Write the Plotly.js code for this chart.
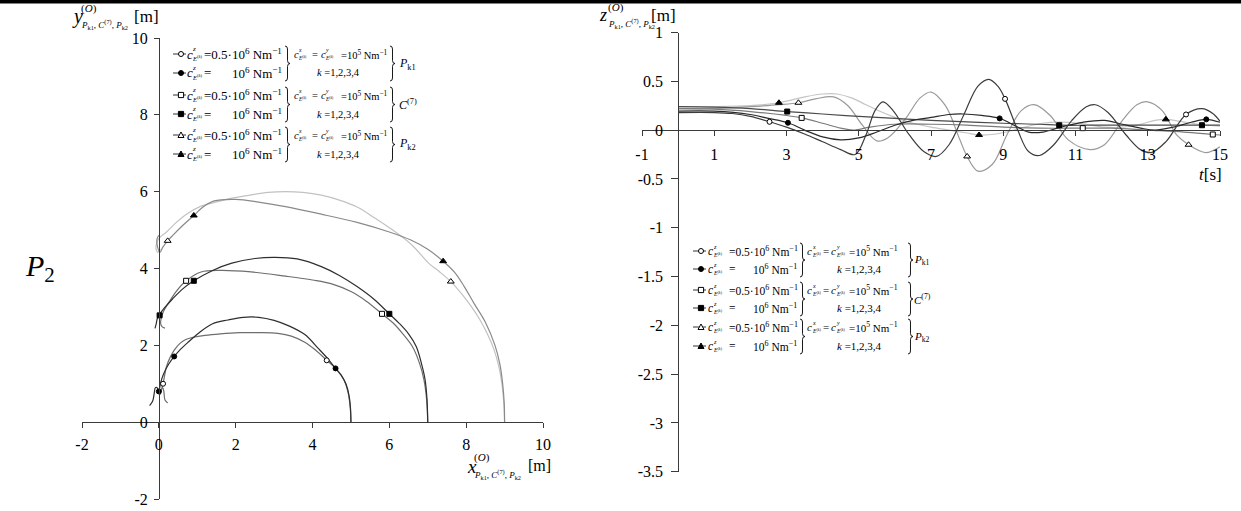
<!DOCTYPE html>
<html><head><meta charset="utf-8">
<script src="https://cdn.plot.ly/plotly-3.0.1.min.js"></script>
<style>html,body{margin:0;padding:0;background:#fff}#c{width:1241px;height:511px}
#c .xtick text,#c .ytick text,#c .x2tick text,#c .y2tick text{font-family:'Liberation Serif',serif !important}</style>
</head><body><div id="c"></div>
<script>
// ---------------- LEFT PANEL DATA (x, y in m) ----------------
const pk1HardX = [5.0,4.99,4.95,4.87,4.75,4.6,4.4,4.15,3.8,3.4,3.0,2.6,2.2,1.8,1.4,1.05,0.75,0.52,0.4,0.25,0.12,0.04,0.0,-0.05,-0.09,-0.12,-0.16,-0.24];
const pk1HardY = [0.0,0.35,0.7,1.0,1.22,1.4,1.65,1.92,2.28,2.5,2.65,2.73,2.73,2.66,2.56,2.33,2.07,1.85,1.71,1.5,1.25,1.0,0.8,0.9,0.9,0.75,0.55,0.43];
const pk1SoftX = [5.0,4.98,4.92,4.82,4.65,4.37,4.1,3.8,3.45,3.1,2.6,2.1,1.6,1.2,0.9,0.7,0.55,0.42,0.3,0.2,0.11,0.07,0.04,0.07,0.1,0.13,0.16,0.23];
const pk1SoftY = [0.0,0.4,0.8,1.1,1.35,1.61,1.86,2.08,2.24,2.31,2.33,2.33,2.3,2.26,2.21,2.15,2.05,1.9,1.7,1.45,1.0,0.85,0.72,0.85,0.9,0.8,0.58,0.5];
const c7HardX = [7.0,6.98,6.93,6.83,6.7,6.5,6.25,6.0,5.6,5.16,4.7,4.23,3.6,3.02,2.5,1.9,1.4,0.91,0.6,0.35,0.15,0.05,0.0,-0.04,-0.07,-0.1];
const c7HardY = [0.0,0.6,1.11,1.55,1.97,2.3,2.58,2.82,3.2,3.53,3.82,4.05,4.25,4.29,4.26,4.14,3.95,3.68,3.45,3.2,2.98,2.85,2.78,2.7,2.55,2.44];
const c7SoftX = [7.0,6.97,6.9,6.78,6.6,6.35,6.1,5.81,5.4,5.0,4.5,4.0,3.3,2.4,1.6,1.1,0.71,0.45,0.25,0.12,0.06,0.05,0.09,0.16];
const c7SoftY = [0.0,0.6,1.11,1.55,1.97,2.3,2.58,2.82,3.15,3.4,3.6,3.7,3.8,3.91,3.95,3.91,3.68,3.4,3.1,2.88,2.7,2.55,2.48,2.45];
const pk2LightX = [9.0,8.98,8.93,8.85,8.72,8.55,8.35,8.14,7.9,7.6,7.3,7.02,6.6,6.09,5.6,5.16,4.7,4.23,3.75,3.3,2.85,2.37,1.9,1.45,1.07,0.7,0.4,0.2,0.07,0.0,-0.06,-0.07,-0.02,0.04];
const pk2LightY = [0.0,0.5,1.0,1.45,1.9,2.3,2.68,3.0,3.32,3.66,3.92,4.14,4.6,5.0,5.33,5.6,5.78,5.91,5.98,6.0,5.98,5.91,5.83,5.72,5.61,5.4,5.15,4.95,4.85,4.78,4.65,4.5,4.42,4.5];
const pk2GrayX = [9.0,8.99,8.95,8.88,8.75,8.5,8.2,7.95,7.7,7.4,7.0,6.56,6.0,5.16,4.2,3.3,2.6,2.0,1.44,1.15,0.91,0.6,0.35,0.23,0.1,0.03,-0.03,-0.05,-0.01,0.03];
const pk2GrayY = [0.0,0.5,1.0,1.5,2.0,2.6,3.1,3.53,3.9,4.19,4.5,4.74,4.95,5.2,5.42,5.61,5.73,5.8,5.76,5.6,5.38,5.1,4.85,4.72,4.55,4.42,4.55,4.75,4.85,4.88];
// marker positions
const pk1FilledMkX = [4.6,0.4,0.0],  pk1FilledMkY = [1.4,1.71,0.8];
const pk1OpenMkX   = [4.37,0.11],    pk1OpenMkY   = [1.61,1.0];
const c7FilledMkX  = [6.0,0.91,0.02],c7FilledMkY  = [2.82,3.68,2.78];
const c7OpenMkX    = [5.81,0.71],    c7OpenMkY    = [2.82,3.68];
const pk2FilledMkX = [7.4,0.91],     pk2FilledMkY = [4.19,5.38];
const pk2OpenMkX   = [7.6,0.23],     pk2OpenMkY   = [3.66,4.72];

// ---------------- RIGHT PANEL DATA (t in s, z in m) ----------------
const tA = [0,1,1.5,2,2.53,3,3.5,4,4.5,4.9,5.2,5.45,5.67,5.95,6.4,6.8,7.15,7.5,7.9,8.3,8.6,8.85,9.05,9.4,9.7,10.0,10.4,10.9,11.3,11.55,11.9,12.4,12.8,13.1,13.5,14.06,14.5,14.8,15];
const zA = [0.18,0.18,0.17,0.14,0.085,0.03,-0.04,-0.12,-0.2,-0.25,-0.05,0.2,0.29,0.2,-0.05,-0.22,-0.27,-0.15,0.15,0.45,0.52,0.45,0.32,0.0,-0.22,-0.26,-0.15,0.1,0.24,0.26,0.18,-0.05,-0.2,-0.23,-0.12,0.16,0.22,0.17,0.09];
const tB = [0,1,2,2.8,3.33,3.8,4.3,4.7,5.1,5.5,5.8,6.3,6.7,7.0,7.4,7.8,8.0,8.3,8.7,9.1,9.5,9.85,10.3,10.8,11.4,11.8,12.3,12.7,13.0,13.4,13.8,14.13,14.6,15];
const zB = [0.22,0.22,0.24,0.26,0.28,0.32,0.34,0.25,0.05,-0.11,-0.08,0.12,0.33,0.39,0.25,-0.1,-0.27,-0.42,-0.35,-0.05,0.2,0.26,0.15,-0.1,-0.2,-0.15,0.1,0.26,0.29,0.2,-0.05,-0.15,-0.23,-0.17];
const tTri = [0,1,2,2.79,3.5,4.0,4.4,4.8,5.2,5.6,6.0,6.5,7.0,7.5,8.0,8.33,8.8,9.3,9.8,10.3,10.8,11.3,11.8,12.3,12.8,13.2,13.5,13.9,14.4,15];
const zTri = [0.24,0.24,0.25,0.28,0.34,0.37,0.37,0.33,0.26,0.19,0.13,0.07,0.03,0.0,-0.03,-0.05,-0.04,0.0,0.05,0.08,0.08,0.06,0.03,0.03,0.06,0.1,0.11,0.09,0.06,0.04];
const tCirc = [0,1,2,2.5,3.04,3.5,4,4.5,5,5.5,6,6.5,7,7.5,7.9,8.4,8.9,9.3,9.7,10.1,10.6,11.2,11.8,12.3,12.8,13.2,13.7,14.2,14.62,15];
const zCirc = [0.195,0.195,0.16,0.12,0.075,0.0,-0.07,-0.1,-0.08,-0.02,0.05,0.1,0.13,0.16,0.165,0.15,0.12,0.05,-0.02,-0.02,0.03,0.08,0.1,0.06,0.02,0.0,0.03,0.08,0.11,0.08];
const tSq = [0,1,2,3.02,4,5,6,7,8,9,10,10.55,11.5,12.5,13.5,14.5,15];
const zSq = [0.24,0.235,0.22,0.19,0.165,0.14,0.12,0.1,0.085,0.07,0.06,0.05,0.05,0.05,0.05,0.05,0.05];
const tOSq = [0,1,2,3,3.42,4,4.5,4.85,5.3,6,7,8,9,10,11.2,12,13,14,14.8,15];
const zOSq = [0.22,0.215,0.19,0.15,0.125,0.07,0.02,0.0,0.03,0.06,0.06,0.05,0.03,0.02,0.02,0.02,0.0,-0.02,-0.045,-0.05];
const mkA_t = [2.53,9.05,14.06], mkA_z = [0.085,0.32,0.16];
const mkB_t = [3.33,8.0,14.13],  mkB_z = [0.28,-0.27,-0.15];
const mkTri_t = [2.79,8.33,13.5], mkTri_z = [0.28,-0.05,0.11];
const mkCirc_t = [3.04,8.9,14.62], mkCirc_z = [0.075,0.12,0.11];
const mkSq_t = [3.02,10.55,14.5], mkSq_z = [0.19,0.05,0.05];
const mkOSq_t = [3.42,11.2,14.8], mkOSq_z = [0.125,0.02,-0.045];

// ---------------- TICKS ----------------
const leftTickVals = [-2,0,2,4,6,8,10];
const leftTickText = ['-2','0','2','4','6','8','10'];
const rightXTickVals = [-1,1,3,5,7,9,11,13,15];
const rightXTickText = ['-1','1','3','5','7','9','11','13','15'];
const rightYTickVals = [1,0.5,0,-0.5,-1,-1.5,-2,-2.5,-3,-3.5];
const rightYTickText = ['1','0.5','0','-0.5','-1','-1.5','-2','-2.5','-3','-3.5'];

// ---------------- BUILD ----------------
const W=1241,H=511;
const px=x=>x/W, py=y=>1-y/H;
const FONT='Liberation Serif';
const ann=[], shp=[];
function T(x,y,text,size,opt){ ann.push(Object.assign({xref:'paper',yref:'paper',x:px(x),y:py(y),text:text,showarrow:false,xanchor:'left',yanchor:'middle',borderpad:0,font:{family:FONT,size:size,color:'#000'}},opt||{})); }
function cE(x,y,letter,fs){ T(x,y,'<i>c</i>',fs); T(x+0.42*fs,y-0.36*fs,'<i>'+letter+'</i>',fs*0.55); T(x+0.42*fs,y+0.34*fs,'<i>E</i><sup>(<i>k</i>)</sup>',fs*0.5); }
function P(a,b){return px(a).toFixed(5)+','+py(b).toFixed(5);}
function brace(x,y1,y2,w){ const ym=(y1+y2)/2, r=3, xm=x+w/2;
  const d='M'+P(x,y1)+' Q'+P(xm,y1)+' '+P(xm,y1+r)+' L'+P(xm,ym-r)+' Q'+P(xm,ym)+' '+P(x+w,ym)+' Q'+P(xm,ym)+' '+P(xm,ym+r)+' L'+P(xm,y2-r)+' Q'+P(xm,y2)+' '+P(x,y2);
  shp.push({type:'path',xref:'paper',yref:'paper',path:d,line:{color:'#000',width:0.9}}); }
function legMark(x,y,sym,filled){
  shp.push({type:'line',xref:'paper',yref:'paper',x0:px(x-8),x1:px(x+5),y0:py(y),y1:py(y),line:{color:'#333',width:1}});
  const fc = filled?'#000':'#fff';
  if(sym==='circle') shp.push({type:'circle',xref:'paper',yref:'paper',x0:px(x-2.5),x1:px(x+2.5),y0:py(y+2.5),y1:py(y-2.5),fillcolor:fc,line:{color:'#000',width:1}});
  else if(sym==='square') shp.push({type:'rect',xref:'paper',yref:'paper',x0:px(x-2.6),x1:px(x+2.6),y0:py(y+2.6),y1:py(y-2.6),fillcolor:fc,line:{color:'#000',width:1}});
  else shp.push({type:'path',xref:'paper',yref:'paper',path:'M'+P(x-3,y+2.5)+' L'+P(x+3,y+2.5)+' L'+P(x,y-3)+' Z',fillcolor:fc,line:{color:'#000',width:1}});
}
function legend(c){
  const syms=['circle','square','triangle'];
  const labs=['<i>P</i><sub>k1</sub>','<i>C</i><sup>(7)</sup>','<i>P</i><sub>k2</sub>'];
  for(let g=0;g<3;g++){
    const yA=c.rows[2*g], yB=c.rows[2*g+1];
    legMark(c.mark,yA,syms[g],false); legMark(c.mark,yB,syms[g],true);
    cE(c.c,yA,'z',c.fs1); T(c.eq,yA,'=0.5·10<sup>6</sup> Nm<sup>−1</sup>',c.fs1);
    cE(c.c,yB,'z',c.fs1); T(c.eq,yB,'=',c.fs1); T(c.end1,yB,'10<sup>6</sup> Nm<sup>−1</sup>',c.fs1,{xanchor:'right'});
    brace(c.b1,yA-8,yB+8,5);
    cE(c.c2a,yA,'x',c.fs2); T(c.eq2,yA,'=',c.fs2); cE(c.c2b,yA,'y',c.fs2); T(c.val2,yA,'=10<sup>5</sup> Nm<sup>−1</sup>',c.fs2);
    T(c.k,yB,'<i>k</i> =1,2,3,4',c.fs2);
    brace(c.b2,yA-8,yB+8,5);
    T(c.lab,(yA+yB)/2,labs[g],c.fsL);
  }
}
legend({rows:[54,73,95,114,135,154],mark:181,c:186,eq:203,end1:283,b1:285,c2a:293,eq2:311,c2b:320,val2:340,k:316,b2:390,lab:398,fs1:13,fs2:10.5,fsL:12});
legend({rows:[251,269,290,308,327,346],mark:701,c:707,eq:728,end1:798,b1:800,c2a:806,eq2:822,c2b:830,val2:848,k:836,b2:908,lab:913,fs1:11.5,fs2:11,fsL:11});

// axis titles
T(71,17,'<i>y</i>',20); T(80,8,'(<i>O</i>)',11); T(80,25,'<i>P</i><sub>k1</sub>, <i>C</i><sup>(7)</sup>, <i>P</i><sub>k2</sub>',9); T(133,16,'[m]',17);
T(466,466,'<i>x</i>',19); T(473,457,'(<i>O</i>)',11); T(473,474,'<i>P</i><sub>k1</sub>, <i>C</i><sup>(7)</sup>, <i>P</i><sub>k2</sub>',9); T(527,465,'[m]',16);
T(598,15,'<i>z</i>',18); T(607,7,'(<i>O</i>)',11); T(607,23,'<i>P</i><sub>k1</sub>, <i>C</i><sup>(7)</sup>, <i>P</i><sub>k2</sub>',9); T(650,15,'[m]',17);
T(1210,174,'<i>t</i>[s]',17,{xanchor:'center'});
T(24,268,'<i>P</i><sub>2</sub>',30);
// top rule
shp.push({type:'rect',xref:'paper',yref:'paper',x0:0,x1:1,y0:py(3.5),y1:1,fillcolor:'#000',line:{width:0}});

function curve(x,y,color,xa,ya){return {x:x,y:y,xaxis:xa,yaxis:ya,mode:'lines',line:{color:color,width:1.2,shape:'spline',smoothing:1},hoverinfo:'skip'};}
function marks(x,y,sym,filled,xa,ya){return {x:x,y:y,xaxis:xa,yaxis:ya,mode:'markers',marker:{symbol:sym,size:sym==='triangle-up'?6:5,color:filled?'#000':'#fff',line:{color:'#000',width:1}},hoverinfo:'skip'};}

const data=[
 curve(pk2LightX,pk2LightY,'#c2c2c2','x','y'),
 curve(pk2GrayX,pk2GrayY,'#8a8a8a','x','y'),
 curve(c7SoftX,c7SoftY,'#6e6e6e','x','y'),
 curve(c7HardX,c7HardY,'#2e2e2e','x','y'),
 curve(pk1SoftX,pk1SoftY,'#6e6e6e','x','y'),
 curve(pk1HardX,pk1HardY,'#2e2e2e','x','y'),
 marks(pk1FilledMkX,pk1FilledMkY,'circle',true,'x','y'),
 marks(pk1OpenMkX,pk1OpenMkY,'circle',false,'x','y'),
 marks(c7FilledMkX,c7FilledMkY,'square',true,'x','y'),
 marks(c7OpenMkX,c7OpenMkY,'square',false,'x','y'),
 marks(pk2FilledMkX,pk2FilledMkY,'triangle-up',true,'x','y'),
 marks(pk2OpenMkX,pk2OpenMkY,'triangle-up',false,'x','y'),
 curve(tTri,zTri,'#c4c4c4','x2','y2'),
 curve(tB,zB,'#9a9a9a','x2','y2'),
 curve(tOSq,zOSq,'#7a7a7a','x2','y2'),
 curve(tSq,zSq,'#4a4a4a','x2','y2'),
 curve(tCirc,zCirc,'#2a2a2a','x2','y2'),
 curve(tA,zA,'#3c3c3c','x2','y2'),
 marks(mkA_t,mkA_z,'circle',false,'x2','y2'),
 marks(mkCirc_t,mkCirc_z,'circle',true,'x2','y2'),
 marks(mkOSq_t,mkOSq_z,'square',false,'x2','y2'),
 marks(mkSq_t,mkSq_z,'square',true,'x2','y2'),
 marks(mkB_t,mkB_z,'triangle-up',false,'x2','y2'),
 marks(mkTri_t,mkTri_z,'triangle-up',true,'x2','y2')
];
const ax={showgrid:false,zeroline:false,showline:true,linecolor:'#3a3a3a',linewidth:1,ticks:'outside',ticklen:5,tickwidth:1,tickcolor:'#3a3a3a',tickmode:'array',tickfont:{family:FONT,size:16,color:'#000'},fixedrange:true,anchor:'free'};
const layout={width:W,height:H,margin:{l:0,r:0,t:0,b:0},paper_bgcolor:'#fff',plot_bgcolor:'rgba(0,0,0,0)',showlegend:false,font:{family:FONT},
 xaxis:Object.assign({},ax,{domain:[px(82),px(543)],range:[-2,10],position:py(422),tickvals:leftTickVals,ticktext:leftTickText,ticklabelstandoff:3}),
 yaxis:Object.assign({},ax,{domain:[py(499),py(38)],range:[-2,10],position:px(159),tickvals:leftTickVals,ticktext:leftTickText,ticklabelstandoff:3}),
 xaxis2:Object.assign({},ax,{domain:[px(642),px(1220)],range:[-1,15],position:py(130),tickvals:rightXTickVals,ticktext:rightXTickText,ticklabelstandoff:5}),
 yaxis2:Object.assign({},ax,{domain:[py(471.7),py(32.5)],range:[-3.5,1],position:px(678.3),tickvals:rightYTickVals,ticktext:rightYTickText,ticklen:7,ticklabelstandoff:5}),
 annotations:ann,shapes:shp};
Plotly.newPlot('c',data,layout,{staticPlot:true,displayModeBar:false});
</script></body></html>
